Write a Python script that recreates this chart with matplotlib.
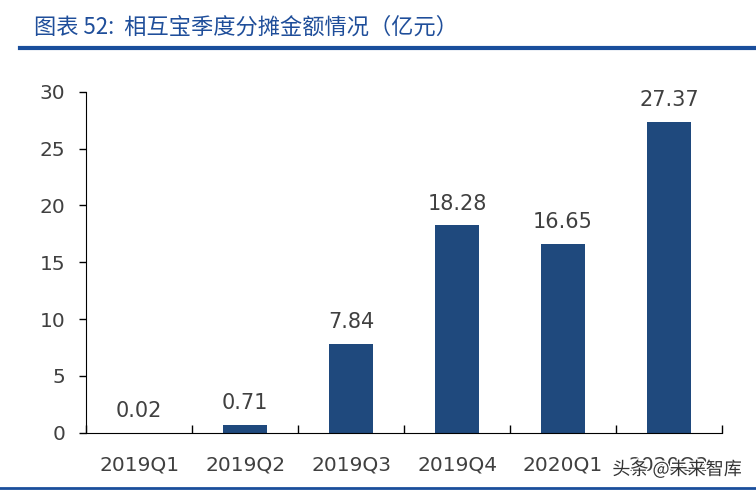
import matplotlib
matplotlib.use("Agg")
import matplotlib.pyplot as plt
import matplotlib.patheffects as pe
import numpy as np

plt.rcParams["font.family"] = ["Noto Sans CJK SC", "DejaVu Sans"]

quarters = ["2019Q1", "2019Q2", "2019Q3", "2019Q4", "2020Q1", "2020Q2"]
amounts = [0.02, 0.71, 7.84, 18.28, 16.65, 27.37]

bar_color = "#1F497D"
text_color = "#404040"
title_color = "#1F4E9A"

fig = plt.figure(figsize=(7.56, 4.93), dpi=100)
ax = fig.add_axes([0.114, 0.122, 0.841, 0.692])

x = np.arange(len(quarters))
ax.bar(x, amounts, width=0.41, color=bar_color)
for xi, v in zip(x, amounts):
    ax.text(xi, v + 1.0, f"{v:.2f}", ha="center", va="bottom",
            fontsize=15, color=text_color, family="DejaVu Sans")

ax.set_xlim(-0.5, len(quarters) - 0.5)
ax.set_ylim(0, 30)
ax.set_yticks(range(0, 31, 5))
ax.set_xticks(x)
ax.set_xticklabels(quarters)
ax.set_xticks(np.arange(-0.5, len(quarters)), minor=True)
ax.tick_params(axis="x", which="major", length=0, pad=16, labelsize=14.5,
               labelcolor=text_color)
ax.tick_params(axis="x", which="minor", direction="in", length=6, width=1)
ax.tick_params(axis="y", length=5, width=1, labelsize=14.5, labelcolor=text_color, pad=10)
for lab in ax.get_xticklabels() + ax.get_yticklabels():
    lab.set_family("DejaVu Sans")
ax.spines["top"].set_visible(False)
ax.spines["right"].set_visible(False)
ax.spines["left"].set_color("black")
ax.spines["bottom"].set_color("black")

fig.text(0.045, 0.945, "图表 52:  相互宝季度分摊金额情况（亿元）", fontsize=16,
         color=title_color, va="center", ha="left")
fig.add_artist(plt.Line2D([0.027, 1.0], [0.903, 0.903], color="#1A4E9C", lw=3))
fig.add_artist(plt.Line2D([0.0, 1.0], [0.01, 0.01], color="#1A4E9C", lw=2))
# watermark sits over the last tick label, as in the source image
fig.text(0.81, 0.048, "头条 @未来智库", fontsize=13, color="#333333",
         va="center", ha="left", zorder=10,
         path_effects=[pe.withStroke(linewidth=2, foreground="white")])

fig.savefig("out.png", dpi=100)
